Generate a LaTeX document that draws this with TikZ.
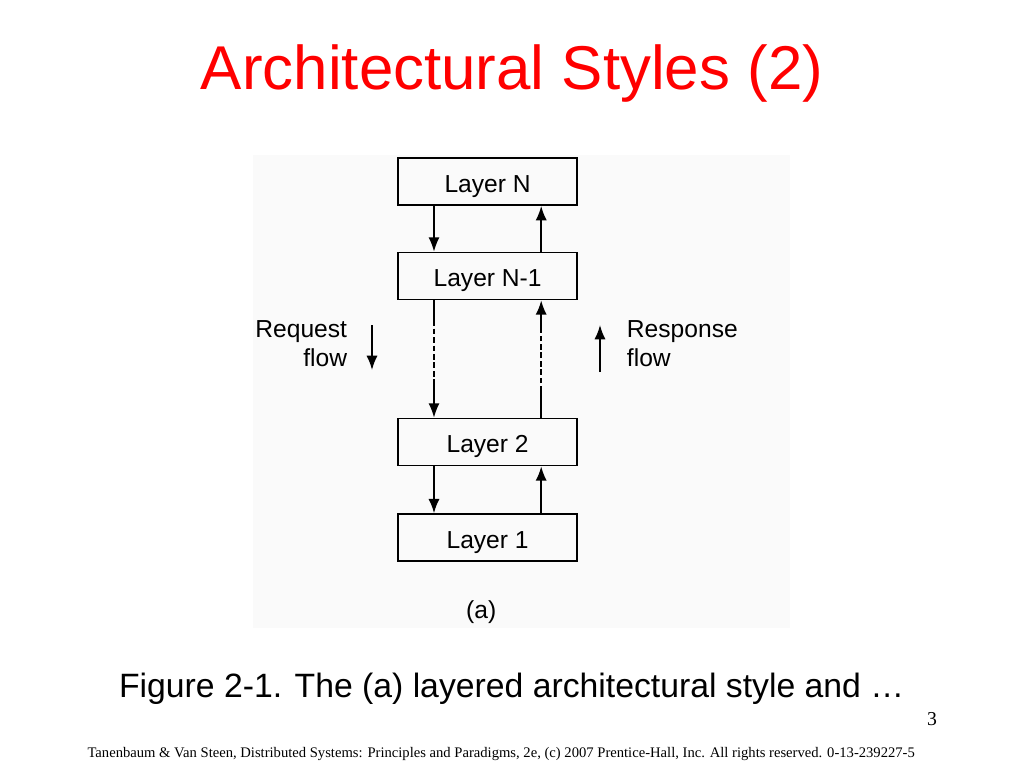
\documentclass[tikz,border=0pt]{standalone}
\usepackage{fontspec}
\setmainfont{Liberation Sans}
\newfontfamily\timesfont{Liberation Serif}
\usetikzlibrary{positioning,arrows.meta}
\tikzstyle{layer}=[rectangle,
	draw=black,
	line width=1.2pt,
	minimum width=4.475cm,
	minimum height=1.175cm,
	text height=15.5pt,
	text depth=0pt,
	font=\fontsize{17.5}{21}\selectfont]
\tikzstyle{flow}=[line width=1.2pt,
	-{Latex[length=3.6mm,width=2.8mm]}]
\tikzstyle{link}=[line width=1.2pt]
\tikzstyle{gap}=[line width=1.2pt,
	dash pattern=on 4pt off 2pt]
\tikzstyle{flowtext}=[font=\fontsize{17.5}{20.6}\selectfont]
\begin{document}
\begin{tikzpicture}
	\useasboundingbox (0,0) rectangle (25.6,-19.2);
	% figure background
	\fill[black!2] (6.325,-3.875) rectangle (19.75,-15.7);
	\node (title) [red, font=\fontsize{44}{52}\selectfont] at (12.8,-1.83) {Architectural Styles (2)};

	\node (layerN) [layer] at (12.19,-4.54) {Layer N};
	\node (layerN1) [layer, below of=layerN, node distance=2.36cm] {Layer N-1};
	\node (layer2) [layer, below of=layerN1, node distance=4.15cm] {Layer 2};
	\node (layer1) [layer, below of=layer2, node distance=2.39cm] {Layer 1};

	\draw[flow] ([xshift=-1.34cm]layerN.south) -- ([xshift=-1.34cm]layerN1.north);
	\draw[flow] ([xshift=1.34cm]layerN1.north) -- ([xshift=1.34cm]layerN.south);
	\draw[flow] ([xshift=-1.34cm]layer2.south) -- ([xshift=-1.34cm]layer1.north);
	\draw[flow] ([xshift=1.34cm]layer1.north) -- ([xshift=1.34cm]layer2.south);

	% broken links between N-1 and 2
	\path ([xshift=-1.34cm]layerN1.south) -- coordinate[pos=0.17] (reqtop) coordinate[pos=0.7] (reqbot) ([xshift=-1.34cm]layer2.north);
	\draw[link] ([xshift=-1.34cm]layerN1.south) -- (reqtop);
	\draw[gap] (reqtop) -- (reqbot);
	\draw[flow] (reqbot) -- ([xshift=-1.34cm]layer2.north);
	\path ([xshift=1.34cm]layer2.north) -- coordinate[pos=0.22] (resbot) coordinate[pos=0.75] (restop) ([xshift=1.34cm]layerN1.south);
	\draw[link] ([xshift=1.34cm]layer2.north) -- (resbot);
	\draw[gap] (resbot) -- (restop);
	\draw[flow] (restop) -- ([xshift=1.34cm]layerN1.south);

	\node (request) [flowtext, align=right, anchor=east] at (8.8,-8.58) {Request\\flow};
	\coordinate (reqstart) at (9.3,-8.125);
	\coordinate (reqend) at (9.3,-9.25);
	\draw[flow] (reqstart) -- (reqend);
	\node (response) [flowtext, align=left, anchor=west] at (15.55,-8.58) {Response\\flow};
	\coordinate (resstart) at (15.0,-9.3);
	\coordinate (resend) at (15.0,-8.125);
	\draw[flow] (resstart) -- (resend);

	\node (part) [flowtext] at (12.03,-15.3) {(a)};
	\node (caption) [font=\fontsize{24}{29}\selectfont] at (12.79,-17.22) {Figure 2-1. The (a) layered architectural style and …};
	\node (page) [font=\timesfont\fontsize{14}{17}\selectfont] at (23.3,-17.97) {3};
	\node (footer) [font=\timesfont\fontsize{10.4}{12}\selectfont] at (12.53,-18.85) {Tanenbaum \& Van Steen, Distributed Systems: Principles and Paradigms, 2e, (c) 2007 Prentice-Hall, Inc. All rights reserved. 0-13-239227-5};
\end{tikzpicture}
\end{document}
